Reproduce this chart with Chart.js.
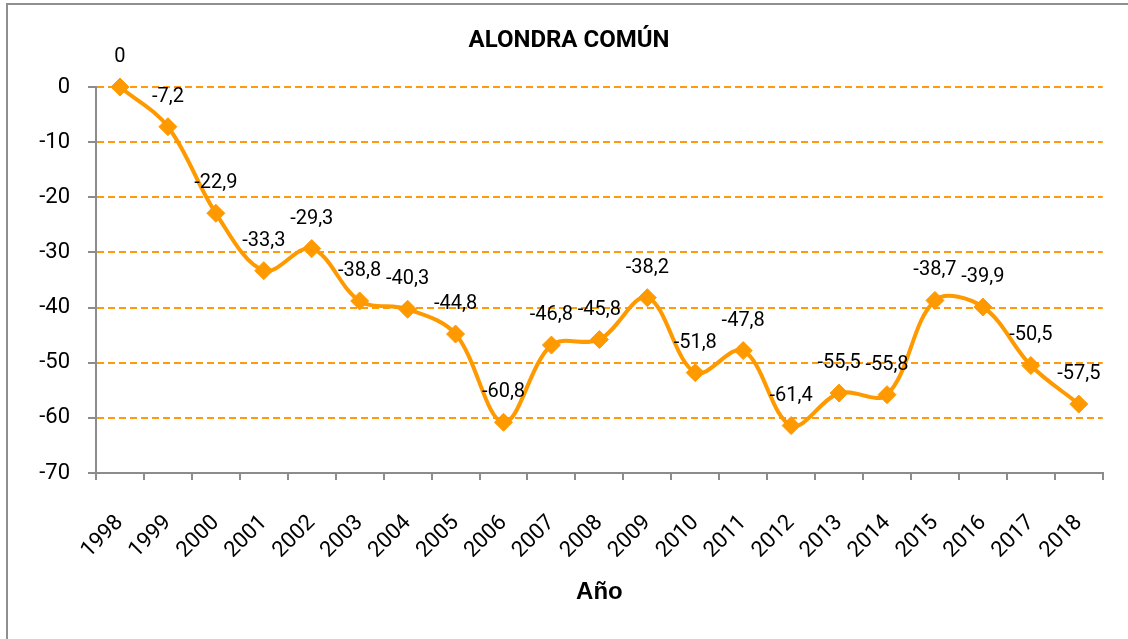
<!DOCTYPE html>
<html>
<head>
<meta charset="utf-8">
<script src="https://cdn.jsdelivr.net/npm/chart.js@4"></script>
<style>
  html, body { margin: 0; padding: 0; background: #fff; overflow: hidden; }
  #wrap { position: absolute; left: 0; top: 0; width: 1128px; height: 639px; overflow: hidden; }
  #frame { position: absolute; left: 6px; top: 3px; width: 1160px; height: 660px; border: 2px solid #8f8f8f; box-sizing: border-box; pointer-events: none; }
  canvas { position: absolute; left: 0; top: 0; }
</style>
</head>
<body>
<div id="wrap">
  <canvas id="c" width="1128" height="639"></canvas>
  <div id="frame"></div>
</div>
<script>
const chartTitle = 'ALONDRA COMÚN';
const xAxisTitle = 'Año';
const years = ['1998','1999','2000','2001','2002','2003','2004','2005','2006','2007','2008','2009','2010','2011','2012','2013','2014','2015','2016','2017','2018'];
const values = [0, -7.2, -22.9, -33.3, -29.3, -38.8, -40.3, -44.8, -60.8, -46.8, -45.8, -38.2, -51.8, -47.8, -61.4, -55.5, -55.8, -38.7, -39.9, -50.5, -57.5];
const yTicks = [0, -10, -20, -30, -40, -50, -60, -70];

const ORANGE = 'rgb(255,153,0)';
const GRID = 'rgb(255,155,10)';
const AXIS = '#8c8c8c';

const labelPlugin = {
  id: 'pointLabels',
  afterDatasetsDraw(chart) {
    const ctx = chart.ctx;
    const meta = chart.getDatasetMeta(0);
    ctx.save();
    ctx.font = '20px Roboto';
    ctx.fillStyle = '#000';
    ctx.textAlign = 'center';
    ctx.textBaseline = 'middle';
    meta.data.forEach((pt, i) => {
      const txt = String(values[i]).replace('.', ',');
      ctx.fillText(txt, pt.x, pt.y - 30);
    });
    ctx.restore();
  }
};

const titlePlugin = {
  id: 'customTitle',
  afterDraw(chart) {
    const ctx = chart.ctx;
    ctx.save();
    ctx.font = 'bold 24px Roboto';
    ctx.fillStyle = '#000';
    ctx.textAlign = 'center';
    ctx.textBaseline = 'middle';
    ctx.fillText(chartTitle, 569, 41);
    ctx.restore();
  }
};

new Chart(document.getElementById('c'), {
  type: 'line',
  data: {
    labels: years,
    datasets: [{
      data: values,
      borderColor: ORANGE,
      backgroundColor: ORANGE,
      borderWidth: 4,
      tension: 0.35,
      pointStyle: 'rectRot',
      pointRadius: 9,
      pointHoverRadius: 9,
      pointBackgroundColor: ORANGE,
      pointBorderColor: ORANGE,
      pointBorderWidth: 1,
      clip: false,
      fill: false
    }]
  },
  options: {
    responsive: false,
    animation: false,
    devicePixelRatio: 1,
    layout: { padding: { left: 10, top: 87, right: 23, bottom: 0 } },
    plugins: { legend: { display: false }, title: { display: false }, tooltip: { enabled: false } },
    scales: {
      x: {
        type: 'category',
        offset: true,
        grid: { offset: true, drawOnChartArea: false, color: AXIS, tickLength: 7, lineWidth: 2 },
        border: { display: true, color: AXIS, width: 2 },
        ticks: { autoSkip: false, minRotation: 45, maxRotation: 45, color: '#000', font: { family: 'Roboto', size: 22 }, padding: 30 },
        title: { display: true, text: xAxisTitle, color: '#000', font: { family: 'Liberation Sans', size: 24, weight: 'bold' }, padding: { top: 0, bottom: 32 } },
        afterFit(scale) { scale.height = 166; }
      },
      y: {
        min: -70,
        max: 0,
        afterBuildTicks(scale) { scale.ticks = yTicks.map(v => ({ value: v })); },
        grid: { color: GRID, lineWidth: 2, tickColor: AXIS, tickLength: 8, tickWidth: 2, tickBorderDash: [] },
        border: { display: true, color: AXIS, width: 2, dash: [7, 4] },
        ticks: { color: '#000', font: { family: 'Roboto', size: 22 }, padding: 18, callback: v => String(v) },
        afterFit(scale) { scale.width = 86; }
      }
    }
  },
  plugins: [labelPlugin, titlePlugin]
});
</script>
</body>
</html>
